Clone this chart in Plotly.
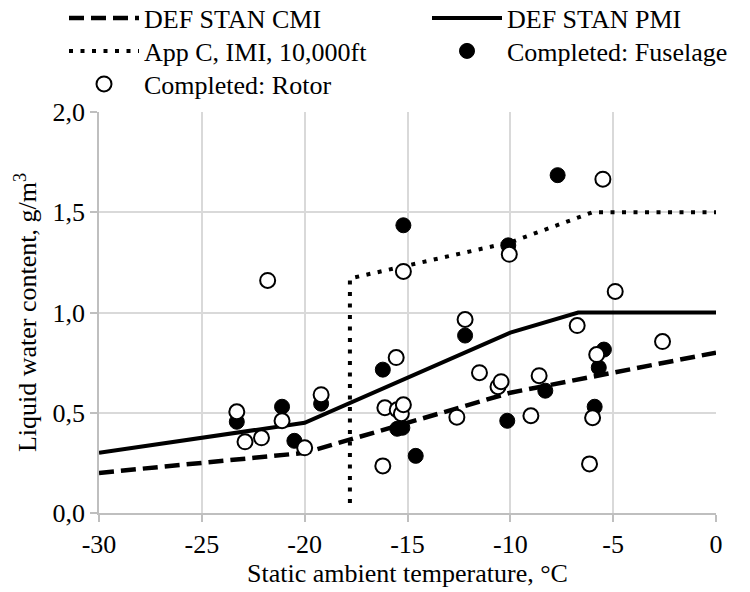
import plotly.graph_objects as go

# ---- data ----
cmi_t = [-30, -20, -10, 0]
cmi_lwc = [0.2, 0.3, 0.6, 0.8]

pmi_t = [-30, -20, -10, -6.7, 0]
pmi_lwc = [0.3, 0.45, 0.9, 1.0, 1.0]

imi_t = [-17.8, -17.8, -10, -6, 0]
imi_lwc = [0.05, 1.17, 1.35, 1.5, 1.5]

fus_t = [-23.3, -21.1, -20.5, -19.2, -16.2, -15.2, -15.5, -15.25, -14.6,
         -12.2, -10.1, -10.15, -8.3, -7.7, -5.9, -5.7, -5.45]
fus_lwc = [0.455, 0.53, 0.36, 0.545, 0.715, 1.435, 0.42, 0.425, 0.285,
           0.885, 1.335, 0.46, 0.61, 1.685, 0.53, 0.725, 0.815]

rot_t = [-23.3, -22.9, -22.1, -21.8, -21.1, -20.0, -19.2, -16.2, -16.1,
         -15.55, -15.5, -15.3, -15.2, -15.2, -12.6, -12.2, -11.5, -10.6,
         -10.45, -10.05, -9.0, -8.6, -6.75, -6.15, -6.0, -5.8, -5.5, -4.9, -2.6]
rot_lwc = [0.505, 0.355, 0.375, 1.16, 0.46, 0.325, 0.59, 0.235, 0.525,
           0.775, 0.515, 0.495, 0.54, 1.205, 0.478, 0.965, 0.70, 0.63,
           0.655, 1.29, 0.485, 0.685, 0.935, 0.245, 0.475, 0.79, 1.665, 1.105, 0.855]

x_tick_vals = [-30, -25, -20, -15, -10, -5, 0]
x_tick_labels = ["-30", "-25", "-20", "-15", "-10", "-5", "0"]
y_tick_vals = [0, 0.5, 1.0, 1.5, 2.0]
y_tick_labels = ["0,0", "0,5", "1,0", "1,5", "2,0"]

FONT = "Liberation Serif, Times New Roman, serif"

fig = go.Figure()
fig.add_trace(go.Scatter(x=cmi_t, y=cmi_lwc, mode="lines", name="DEF STAN CMI",
                         line=dict(color="black", width=4.5, dash="15px,7px"),
                         legend="legend"))
fig.add_trace(go.Scatter(x=pmi_t, y=pmi_lwc, mode="lines", name="DEF STAN PMI",
                         line=dict(color="black", width=4),
                         legend="legend2"))
fig.add_trace(go.Scatter(x=imi_t, y=imi_lwc, mode="lines", name="App C, IMI, 10,000ft",
                         line=dict(color="black", width=4, dash="4px,7.5px"),
                         legend="legend3"))
fig.add_trace(go.Scatter(x=fus_t, y=fus_lwc, mode="markers", name="Completed: Fuselage",
                         marker=dict(symbol="circle", size=15, color="black",
                                     line=dict(color="black", width=1)),
                         legend="legend4"))
fig.add_trace(go.Scatter(x=rot_t, y=rot_lwc, mode="markers", name="Completed: Rotor",
                         marker=dict(symbol="circle", size=15, color="white",
                                     line=dict(color="black", width=2)),
                         legend="legend5"))

def leg(px, py):
    return dict(x=(px - 99) / 617, y=(513 - py) / 401, xanchor="left", yanchor="middle",
                orientation="v", itemwidth=70, bgcolor="rgba(0,0,0,0)",
                font=dict(family=FONT, size=26, color="black"))

fig.update_layout(
    width=750, height=592,
    margin=dict(l=99, r=34, t=112, b=79, autoexpand=False),
    paper_bgcolor="white", plot_bgcolor="white",
    font=dict(family=FONT, size=26, color="black"),
    showlegend=True,
    legend=leg(64, 18),
    legend2=leg(427, 18),
    legend3=leg(64, 51),
    legend4=leg(427, 51),
    legend5=leg(64, 84),
)
fig.update_xaxes(range=[-30, 0], tickvals=x_tick_vals, ticktext=x_tick_labels,
                 showgrid=True, gridcolor="#d9d9d9", gridwidth=1.5,
                 showline=True, linecolor="#bfbfbf", linewidth=1.5,
                 ticks="outside", ticklen=7, tickcolor="#bfbfbf", tickwidth=1.5,
                 zeroline=False, tickfont=dict(family=FONT, size=26),
                 title=dict(text="Static ambient temperature, °C", standoff=4,
                            font=dict(family=FONT, size=26)))
fig.update_yaxes(range=[0, 2], tickvals=y_tick_vals, ticktext=y_tick_labels,
                 showgrid=True, gridcolor="#d9d9d9", gridwidth=1.5,
                 showline=True, linecolor="#bfbfbf", linewidth=1.5,
                 ticks="outside", ticklen=7, tickcolor="#bfbfbf", tickwidth=1.5,
                 zeroline=False, tickfont=dict(family=FONT, size=26),
                 title=dict(text="Liquid water content, g/m<sup>3</sup>", standoff=8,
                            font=dict(family=FONT, size=26)))

fig.write_html("out.html")
